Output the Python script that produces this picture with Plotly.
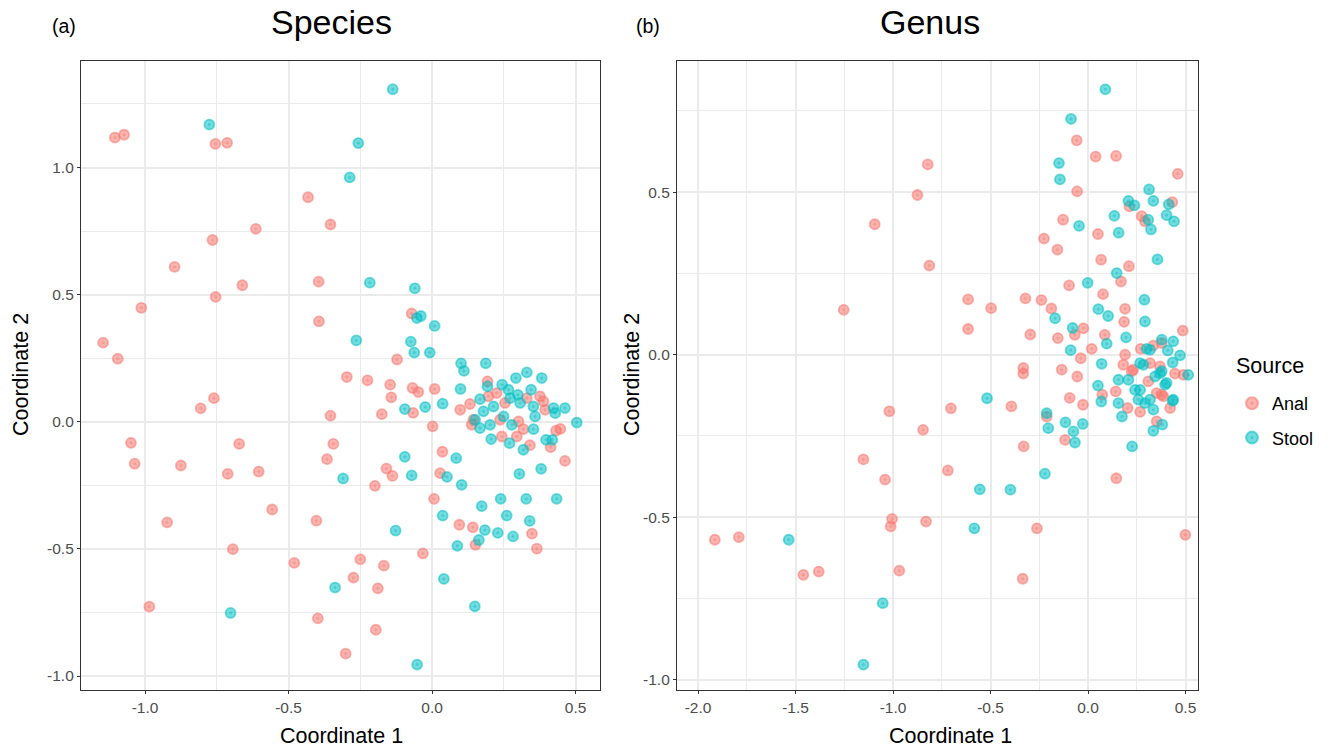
import plotly.graph_objects as go

# ---------------- data ----------------
species_anal_x = [-1.105, -1.073, -0.755, -0.714, -0.432, -0.354, -0.614, -0.765, -0.897, -0.395, -0.661, -0.754, -1.013, -0.394,
                  -1.146, -1.095, -0.071, -0.122, -0.297, -0.225, 0.193, -0.146, -0.068, -0.048, 0.009, -0.142, -0.760, -0.806,
                  -0.175, -0.066, -0.354, 0.002, -1.049, -0.672, -0.344, -1.036, -0.875, -0.366, -0.712, -0.604, -0.159, -0.138,
                  -0.199, 0.036, 0.028, 0.007, -0.557, -0.403, -0.923, 0.095, 0.142, 0.151, 0.348, 0.365, -0.694, -0.032, -0.480,
                  -0.250, -0.168, -0.274, -0.189, -0.985, -0.398, -0.196, -0.301, 0.463, 0.413, 0.341, 0.447, 0.432,
                  0.196, 0.132, 0.098, 0.144, 0.138, 0.237, 0.254, 0.301, 0.318, 0.295, 0.243, 0.388, 0.394, 0.376, 0.225, 0.330]
species_anal_y = [1.118, 1.129, 1.093, 1.097, 0.883, 0.776, 0.759, 0.715, 0.609, 0.551, 0.537, 0.491, 0.448, 0.395,
                  0.311, 0.248, 0.426, 0.245, 0.176, 0.163, 0.159, 0.146, 0.133, 0.117, 0.129, 0.096, 0.093, 0.053,
                  0.030, 0.035, 0.024, -0.018, -0.083, -0.087, -0.087, -0.165, -0.172, -0.147, -0.205, -0.196, -0.184, -0.213,
                  -0.252, -0.118, -0.202, -0.303, -0.345, -0.389, -0.396, -0.405, -0.415, -0.484, -0.440, -0.499, -0.501, -0.518, -0.555,
                  -0.541, -0.566, -0.613, -0.655, -0.727, -0.773, -0.818, -0.912, -0.154, -0.100, -0.092, -0.028, -0.035,
                  0.100, 0.070, 0.047, 0.008, -0.012, 0.008, 0.074, 0.001, -0.029, -0.058, -0.058, 0.080, 0.047, 0.100, 0.113, 0.093]

species_stool_x = [-0.137, -0.776, -0.257, -0.287, -0.217, -0.060, -0.053, -0.039, 0.009, -0.264, -0.074, -0.062, -0.008, 0.101,
                   0.111, 0.187, 0.330, 0.292, 0.382, -0.095, -0.024, 0.037, 0.099, 0.504, 0.463, -0.095, 0.084, -0.071, -0.310,
                   0.052, 0.103, 0.304, 0.380, 0.173, 0.239, 0.328, 0.434, 0.037, 0.260, 0.340, -0.127, 0.184, 0.229, 0.282,
                   0.163, 0.088, 0.041, -0.338, -0.702, 0.149, -0.052,
                   0.193, 0.244, 0.266, 0.299, 0.345, 0.167, 0.272, 0.307, 0.353, 0.179, 0.214, 0.423, 0.429, 0.167, 0.202,
                   0.249, 0.359, 0.353, 0.278, 0.206, 0.270, 0.318, 0.397, 0.419, 0.150]
species_stool_y = [1.308, 1.169, 1.096, 0.961, 0.547, 0.525, 0.408, 0.416, 0.377, 0.320, 0.315, 0.272, 0.272, 0.230,
                   0.200, 0.230, 0.194, 0.172, 0.172, 0.050, 0.058, 0.071, 0.129, -0.003, 0.054, -0.138, -0.143, -0.211, -0.223,
                   -0.217, -0.248, -0.205, -0.185, -0.332, -0.303, -0.303, -0.303, -0.369, -0.369, -0.390, -0.428, -0.426, -0.437, -0.451,
                   -0.465, -0.488, -0.618, -0.652, -0.752, -0.726, -0.955,
                   0.139, 0.146, 0.126, 0.106, 0.126, 0.089, 0.093, 0.074, 0.060, 0.041, 0.060, 0.054, 0.034, -0.025, -0.012,
                   0.021, 0.021, -0.029, -0.012, -0.068, -0.084, -0.110, -0.071, -0.071, 0.008]

genus_anal_x = [-0.058, 0.039, 0.144, 0.460, -0.822, -0.875, -1.094, -0.814, -1.253, -0.056, -0.128, -0.226, -0.157, 0.051,
                0.067, 0.210, 0.169, -0.097, 0.077, 0.190, 0.185, 0.212, 0.275, 0.292, 0.432, -0.615, -0.497, -0.615, -0.321,
                -0.239, -0.188, -0.296, -0.155, -0.068, -0.024, 0.086, 0.019, -0.037, 0.190, 0.270, 0.335, 0.378, 0.486,
                -0.332, -0.332, -0.135, 0.318, -0.055, -0.094, -0.026, -0.393, -1.019, -0.703, -0.846, -0.330, -1.152, -1.041,
                -0.719, 0.145, -1.005, -1.012, -0.831, -0.262, 0.499, -1.914, -1.791, -1.460, -1.381, -0.968, -0.335, 0.203,
                0.267, 0.421, 0.352, -0.118, 0.073, 0.142, 0.378, 0.446, 0.489, -0.212, 0.181, 0.224, 0.309, 0.369, 0.232,
                0.352, 0.386]
genus_anal_y = [0.659, 0.609, 0.611, 0.556, 0.585, 0.491, 0.401, 0.274, 0.138, 0.502, 0.415, 0.357, 0.323, 0.371,
                0.292, 0.272, 0.225, 0.213, 0.186, 0.141, 0.101, 0.456, 0.426, 0.410, 0.469, 0.170, 0.143, 0.079, 0.173,
                0.168, 0.142, 0.062, 0.051, 0.061, 0.081, 0.061, 0.018, -0.011, 0.000, 0.018, 0.028, 0.036, 0.074,
                -0.041, -0.058, -0.046, -0.026, -0.067, -0.133, -0.154, -0.159, -0.174, -0.165, -0.231, -0.282, -0.322, -0.384,
                -0.356, -0.380, -0.505, -0.528, -0.513, -0.534, -0.554, -0.569, -0.561, -0.677, -0.667, -0.664, -0.689, -0.164,
                -0.176, -0.164, -0.205, -0.262, -0.123, -0.113, -0.123, -0.058, -0.062, -0.190, -0.031, -0.051, -0.082, -0.036, -0.046,
                -0.118, -0.128]

genus_stool_x = [0.089, -0.087, -0.149, -0.144, -0.046, 0.313, 0.335, 0.207, 0.238, 0.414, 0.403, 0.441, 0.135, 0.157,
                 0.309, 0.323, 0.356, 0.147, -0.002, 0.289, 0.292, 0.053, 0.103, -0.169, -0.079, 0.195, 0.096, -0.089, 0.378,
                 0.437, 0.409, 0.472, 0.434, 0.318, 0.070, -0.518, -0.212, -0.204, -0.116, -0.027, -0.075, -0.067, -0.221,
                 -0.555, -0.398, -0.583, 0.226, 0.051, 0.068, 0.174, 0.335, 0.381, 0.434, 0.514, -1.535, -1.053, -1.152,
                 0.156, 0.156, 0.258, 0.292, 0.335, 0.241, 0.344, 0.378, 0.284, 0.395, 0.207, 0.301, 0.267, 0.369, 0.267,
                 0.318, 0.403, 0.437]
genus_stool_y = [0.816, 0.725, 0.589, 0.539, 0.396, 0.508, 0.473, 0.473, 0.459, 0.462, 0.429, 0.410, 0.427, 0.375,
                 0.415, 0.385, 0.293, 0.251, 0.221, 0.169, 0.102, 0.140, 0.119, 0.112, 0.082, 0.053, 0.034, 0.014, 0.046,
                 0.041, 0.013, -0.002, -0.024, 0.015, -0.028, -0.134, -0.180, -0.226, -0.208, -0.213, -0.236, -0.270, -0.366,
                 -0.414, -0.415, -0.534, -0.282, -0.095, -0.144, -0.190, -0.234, -0.215, -0.142, -0.062, -0.569, -0.764, -0.953,
                 -0.077, -0.149, -0.138, -0.149, -0.169, -0.108, -0.067, -0.051, -0.031, -0.092, -0.077, 0.018, -0.026, -0.057, -0.108,
                 -0.138, -0.087, -0.138]

groups = ["Anal", "Stool"]
panel_titles = ["Species", "Genus"]
panel_tags = ["(a)", "(b)"]
legend_title = "Source"

# ---------------- style ----------------
FONT = "Liberation Sans, Arial, Helvetica, sans-serif"
col = {"Anal": "rgba(248,118,109,0.55)", "Stool": "rgba(0,191,196,0.55)"}
W, H = 1335, 749

fig = go.Figure()

def add(x, y, g, xa, ya, show):
    fig.add_trace(go.Scatter(
        x=x, y=y, mode="markers", name=g, legendgroup=g, showlegend=show,
        xaxis=xa, yaxis=ya,
        marker=dict(size=10, symbol="circle-dot", color=col[g], line=dict(color=col[g], width=1.8)),
    ))

add(species_anal_x, species_anal_y, "Anal", "x", "y", True)
add(species_stool_x, species_stool_y, "Stool", "x", "y", True)
add(genus_anal_x, genus_anal_y, "Anal", "x2", "y2", False)
add(genus_stool_x, genus_stool_y, "Stool", "x2", "y2", False)

def px_x(p):
    return p / W

def px_y(p):
    return 1 - p / H

axis_common = dict(
    showline=True, mirror=True, linecolor="#333333", linewidth=1.2,
    showgrid=True, gridcolor="#EBEBEB", gridwidth=1.6,
    zeroline=False, ticks="outside", ticklen=3, tickwidth=1.2, tickcolor="#333333",
    tickfont=dict(family=FONT, size=15.5, color="#4D4D4D"),
    minor=dict(showgrid=True, gridcolor="#EBEBEB", gridwidth=1.0, ticks=""),
)

fig.update_layout(
    width=W, height=H,
    margin=dict(l=0, r=0, t=0, b=0),
    paper_bgcolor="white", plot_bgcolor="white",
    font=dict(family=FONT),
    xaxis=dict(axis_common, domain=[px_x(81), px_x(600)], range=[-1.223, 0.585],
               tickvals=[-1.0, -0.5, 0.0, 0.5], ticktext=["-1.0", "-0.5", "0.0", "0.5"],
               minor_tickvals=[-0.75, -0.25, 0.25], anchor="y"),
    yaxis=dict(axis_common, domain=[px_y(690), px_y(61)], range=[-1.055, 1.419],
               tickvals=[-1.0, -0.5, 0.0, 0.5, 1.0], ticktext=["-1.0", "-0.5", "0.0", "0.5", "1.0"],
               minor_tickvals=[-0.75, -0.25, 0.25, 0.75, 1.25], anchor="x"),
    xaxis2=dict(axis_common, domain=[px_x(677), px_x(1198)], range=[-2.108, 0.564],
                tickvals=[-2.0, -1.5, -1.0, -0.5, 0.0, 0.5], ticktext=["-2.0", "-1.5", "-1.0", "-0.5", "0.0", "0.5"],
                minor_tickvals=[-1.75, -1.25, -0.75, -0.25, 0.25], anchor="y2"),
    yaxis2=dict(axis_common, domain=[px_y(690), px_y(61)], range=[-1.031, 0.903],
                tickvals=[-1.0, -0.5, 0.0, 0.5], ticktext=["-1.0", "-0.5", "0.0", "0.5"],
                minor_tickvals=[-0.75, -0.25, 0.25, 0.75], anchor="x2"),
    legend=dict(
        x=px_x(1232), y=px_y(385), xanchor="left", yanchor="top",
        font=dict(family=FONT, size=18, color="black"),
        bgcolor="rgba(0,0,0,0)", itemsizing="constant", tracegroupgap=8,
    ),
)

annots = [
    dict(text=panel_titles[0], x=px_x(331), y=px_y(22), font=dict(size=34, color="black")),
    dict(text=panel_titles[1], x=px_x(930), y=px_y(22), font=dict(size=34, color="black")),
    dict(text=panel_tags[0], x=px_x(64), y=px_y(26), font=dict(size=19.5, color="black")),
    dict(text=panel_tags[1], x=px_x(648), y=px_y(26), font=dict(size=19.5, color="black")),
    dict(text="Coordinate 1", x=px_x(341), y=px_y(736), font=dict(size=21.5, color="black")),
    dict(text="Coordinate 1", x=px_x(950), y=px_y(736), font=dict(size=21.5, color="black")),
    dict(text="Coordinate 2", x=px_x(21), y=px_y(375), textangle=-90, font=dict(size=21.5, color="black")),
    dict(text="Coordinate 2", x=px_x(632), y=px_y(375), textangle=-90, font=dict(size=21.5, color="black")),
]
for a in annots:
    a.update(xref="paper", yref="paper", showarrow=False, xanchor="center", yanchor="middle")
    a["font"]["family"] = FONT
    fig.add_annotation(**a)
fig.add_annotation(text=legend_title, x=px_x(1234), y=px_y(366), xref="paper", yref="paper",
                   showarrow=False, xanchor="left", yanchor="middle",
                   font=dict(family=FONT, size=21.5, color="black"))

fig.write_html("out.html", config={"displayModeBar": False},
               post_script="document.body.style.margin='0';document.body.style.overflow='hidden';")
